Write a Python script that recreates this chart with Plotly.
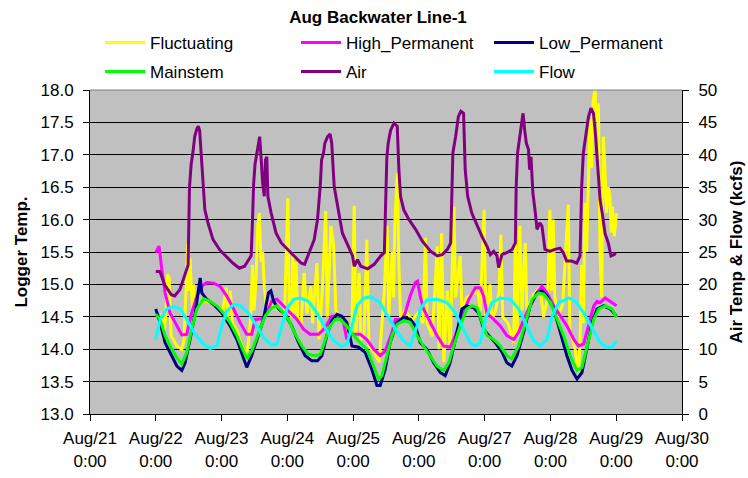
import pandas as pd
import plotly.graph_objects as go

# Logger record starts at midnight, Aug 22; times below are hours from that start.
START = pd.Timestamp("2008-08-22 00:00")

fluct_hours = [2.2, 2.8, 3.6, 4.3, 4.9, 5.6, 6.4, 7.7, 9.5, 10.3, 11.1, 11.6, 12.0, 12.5, 12.9, 13.4,
               13.8, 14.2, 15.0, 17.0, 20.0, 23.0, 24.5, 25.7, 26.3, 27.2, 28.0, 29.5, 31.0, 32.5,
               33.5, 34.5, 35.3, 35.8, 36.5, 37.2, 37.8, 38.4, 39.0, 39.6, 40.5, 41.5, 43.0, 45.0,
               47.0, 48.2, 48.7, 49.5, 50.0, 50.6, 51.2, 51.8, 53.0, 54.1, 55.2, 56.6, 57.2, 58.8,
               59.6, 60.8, 62.0, 62.6, 63.9, 64.9, 65.7, 67.0, 68.5, 70.0, 71.5, 72.4, 73.0, 74.2,
               74.8, 76.0, 77.0, 77.8, 79.7, 81.5, 83.4, 84.4, 85.0, 86.3, 86.8, 87.2, 88.1, 88.7,
               89.3, 91.0, 93.6, 95.5, 97.5, 98.4, 99.0, 100.9, 102.7, 103.3, 104.3, 105.1, 106.4,
               107.4, 108.8, 109.4, 110.3, 111.1, 111.7, 113.5, 115.5, 117.5, 118.4, 119.8, 120.4,
               122.0, 122.6, 124.0, 125.3, 125.9, 126.6, 128.5, 130.6, 131.2, 131.8, 132.8, 133.6,
               134.8, 135.4, 136.5, 138.0, 140.2, 141.5, 143.0, 143.8, 144.4, 145.0, 145.6, 146.9,
               148.5, 150.5, 151.1, 153.0, 154.2, 154.8, 155.4, 156.0, 156.6, 157.2, 157.8, 158.4,
               159.0, 159.6, 160.3, 160.9, 161.5, 162.1, 162.7, 163.3, 163.9, 164.5, 165.1, 165.7,
               166.2, 166.6, 167.3, 167.8, 168.1]
fluct_temp = [14.56, 14.15, 14.5, 15.15, 15.1, 14.2, 14.15, 14.05, 14.0, 14.15, 14.97, 15.62, 14.9,
              15.4, 15.03, 14.6, 15.0, 14.55, 14.65, 14.75, 14.72, 14.62, 14.6, 14.95, 14.5, 14.9,
              14.4, 14.3, 14.1, 13.95, 14.0, 14.4, 15.3, 14.6, 15.0, 15.9, 16.1, 15.35, 15.5, 14.95,
              14.6, 14.7, 14.65, 14.6, 14.55, 16.33, 14.6, 14.5, 15.44, 14.55, 15.35, 14.5, 14.35,
              15.18, 14.55, 14.97, 14.4, 15.33, 14.15, 14.95, 16.13, 14.5, 15.9, 15.6, 14.6, 14.5,
              14.4, 14.25, 14.2, 16.21, 14.2, 15.18, 14.15, 14.2, 15.69, 14.05, 13.95, 13.8, 14.9,
              15.9, 14.5, 15.5, 14.8, 15.9, 16.72, 15.3, 14.5, 14.6, 14.45, 14.55, 14.4, 15.72,
              14.4, 14.2, 15.59, 14.0, 15.79, 13.8, 14.9, 14.0, 16.2, 14.8, 15.1, 15.44, 14.6, 14.8,
              14.85, 14.9, 14.6, 16.15, 14.5, 15.0, 14.45, 14.6, 14.9, 15.77, 14.5, 14.4, 14.1,
              15.74, 14.2, 15.9, 14.6, 15.64, 14.6, 14.7, 14.85, 14.95, 14.5, 14.8, 16.15, 14.9,
              16.0, 14.8, 14.5, 14.7, 16.23, 14.3, 14.0, 13.64, 14.1, 15.3, 14.4, 16.26, 15.5,
              16.51, 17.54, 16.8, 17.85, 18.0, 17.5, 17.79, 15.49, 14.8, 17.28, 16.77, 16.1, 16.5,
              16.36, 15.8, 16.2, 15.74, 16.0, 16.1]

high_hours = [0.0, 1.2, 2.2, 3.4, 5.2, 7.7, 9.5, 11.3, 13.1, 15.0, 16.8, 18.6, 21.1, 23.5, 25.9,
              28.4, 30.8, 33.2, 35.0, 36.3, 38.7, 40.5, 42.3, 44.2, 46.6, 49.0, 51.5, 53.9, 56.3,
              59.4, 61.8, 64.2, 66.7, 68.5, 69.7, 71.6, 74.6, 77.0, 79.5, 81.9, 83.7, 86.2, 87.4,
              89.8, 91.0, 92.8, 94.7, 95.5, 96.5, 97.7, 100.2, 102.6, 105.0, 107.4, 109.3, 111.7,
              114.2, 116.6, 118.4, 119.6, 120.8, 123.3, 125.7, 128.1, 130.6, 132.4, 134.3, 136.6,
              139.1, 140.9, 142.7, 145.2, 147.6, 150.0, 152.5, 154.3, 156.1, 157.9, 159.8, 161.0,
              162.2, 164.0, 165.9, 168.1]
high_temp = [15.49, 15.59, 15.23, 14.87, 14.56, 14.36, 14.22, 14.23, 14.56, 14.82, 14.97, 15.03,
             15.02, 14.97, 14.82, 14.62, 14.41, 14.23, 14.23, 14.46, 14.47, 14.56, 14.74, 14.77,
             14.67, 14.56, 14.46, 14.31, 14.23, 14.23, 14.33, 14.51, 14.51, 14.41, 14.15, 14.23,
             14.23, 14.15, 14.0, 13.9, 13.97, 14.26, 14.46, 14.46, 14.56, 14.82, 15.03, 15.05,
             14.82, 14.62, 14.41, 14.21, 14.05, 14.03, 14.21, 14.51, 14.77, 14.95, 14.95, 14.82,
             14.56, 14.46, 14.36, 14.21, 14.15, 14.26, 14.46, 14.67, 14.87, 14.97, 14.87, 14.67,
             14.51, 14.36, 14.15, 14.05, 14.08, 14.36, 14.67, 14.74, 14.72, 14.79, 14.74, 14.67]

low_hours = [0.0, 1.6, 3.4, 5.2, 7.7, 9.5, 10.7, 12.5, 14.4, 16.2, 16.8, 18.6, 21.1, 24.1, 27.1,
             29.6, 32.0, 33.2, 35.0, 36.9, 39.3, 41.1, 42.0, 43.0, 44.8, 47.2, 49.6, 52.1, 54.5,
             56.9, 59.0, 60.6, 62.4, 64.2, 66.1, 67.9, 69.7, 71.6, 74.0, 76.4, 78.8, 80.7, 81.9,
             83.7, 85.5, 88.0, 90.4, 92.9, 94.7, 96.5, 98.9, 101.4, 103.8, 105.6, 107.4, 109.9,
             111.7, 113.5, 116.0, 117.8, 119.7, 121.5, 123.9, 126.4, 128.1, 129.9, 131.8, 134.2,
             136.6, 139.1, 140.9, 142.7, 145.2, 147.6, 150.0, 151.9, 153.7, 155.5, 157.3, 159.2,
             161.0, 163.4, 165.9, 168.1]
low_temp = [14.62, 14.41, 14.1, 13.95, 13.74, 13.67, 13.79, 14.15, 14.56, 15.1, 14.87, 14.77,
            14.69, 14.56, 14.36, 14.15, 13.85, 13.72, 13.9, 14.15, 14.46, 14.87, 14.9, 14.74,
            14.62, 14.54, 14.36, 14.1, 13.9, 13.82, 13.82, 13.9, 14.21, 14.44, 14.54, 14.51,
            14.41, 14.05, 14.03, 13.95, 13.69, 13.44, 13.44, 13.69, 14.1, 14.41, 14.49, 14.46,
            14.36, 14.1, 14.0, 13.79, 13.64, 13.59, 13.79, 14.26, 14.62, 14.67, 14.64, 14.56,
            14.31, 14.21, 14.1, 13.95, 13.79, 13.74, 13.9, 14.26, 14.67, 14.87, 14.9, 14.82,
            14.62, 14.26, 13.9, 13.67, 13.54, 13.64, 14.0, 14.41, 14.62, 14.67, 14.62, 14.51]

main_hours = [0.0, 1.6, 3.4, 5.2, 7.7, 9.5, 11.3, 13.1, 15.0, 17.4, 19.8, 22.3, 24.7, 27.1, 29.6,
              32.0, 33.2, 35.0, 37.5, 39.9, 42.3, 44.2, 46.0, 48.4, 50.9, 53.3, 55.7, 58.2, 60.0,
              61.8, 63.6, 65.5, 67.3, 69.7, 72.2, 74.6, 77.0, 79.5, 81.3, 82.5, 84.3, 86.2, 88.0,
              90.4, 92.8, 95.3, 97.7, 100.2, 102.6, 105.0, 106.9, 108.7, 111.1, 113.5, 115.4,
              117.2, 119.0, 120.8, 123.3, 125.7, 128.1, 129.9, 132.4, 134.8, 137.3, 139.7, 141.6,
              144.0, 146.4, 148.8, 151.2, 153.7, 155.5, 157.3, 159.8, 161.6, 164.0, 166.5, 168.1]
main_temp = [14.54, 14.46, 14.21, 14.05, 13.87, 13.77, 13.95, 14.31, 14.62, 14.78, 14.74, 14.67,
             14.56, 14.41, 14.21, 13.95, 13.85, 13.97, 14.26, 14.51, 14.64, 14.67, 14.59, 14.46,
             14.23, 14.05, 13.92, 13.9, 13.92, 14.15, 14.36, 14.46, 14.46, 14.36, 14.21, 14.1,
             14.0, 13.74, 13.54, 13.59, 13.9, 14.21, 14.38, 14.44, 14.41, 14.21, 14.05, 13.9,
             13.74, 13.67, 13.79, 14.05, 14.36, 14.62, 14.67, 14.64, 14.41, 14.21, 14.15, 14.05,
             13.9, 13.85, 14.05, 14.41, 14.77, 14.87, 14.85, 14.72, 14.46, 14.21, 13.9, 13.67,
             13.72, 14.05, 14.46, 14.62, 14.67, 14.62, 14.49]

air_hours = [0.0, 1.5, 3.3, 5.7, 6.9, 8.8, 10.0, 11.2, 11.8, 12.3, 12.9, 13.6, 14.2, 15.0, 15.5,
             16.0, 16.6, 17.3, 17.9, 19.1, 20.9, 23.4, 26.4, 28.1, 30.5, 32.4, 33.6, 34.8, 35.3,
             35.7, 36.2, 37.2, 37.9, 38.4, 39.0, 39.6, 40.0, 40.5, 40.9, 42.1, 43.9, 45.8, 48.2,
             50.6, 53.0, 54.3, 56.0, 57.8, 59.0, 60.0, 60.5, 61.2, 61.7, 62.7, 63.6, 64.2, 65.1,
             66.3, 68.1, 69.9, 71.8, 72.4, 73.6, 74.8, 77.3, 79.7, 82.1, 83.4, 83.9, 84.3, 84.8,
             85.7, 86.9, 88.1, 88.7, 89.3, 90.5, 92.4, 94.8, 97.2, 100.3, 102.7, 104.5, 106.4,
             107.6, 108.0, 108.4, 109.4, 110.4, 111.3, 112.3, 112.9, 113.8, 115.3, 117.2, 119.0,
             120.8, 122.1, 123.3, 124.5, 125.1, 126.3, 128.1, 130.0, 131.2, 131.5, 132.0, 133.0,
             134.0, 134.6, 135.2, 136.0, 136.4, 136.9, 137.6, 138.5, 139.1, 140.1, 140.9, 142.0,
             143.8, 145.6, 147.5, 148.7, 149.9, 151.7, 153.6, 154.8, 155.4, 156.0, 157.2, 157.9,
             158.8, 159.7, 160.5, 161.2, 162.1, 162.9, 163.9, 165.1, 166.1, 167.3, 167.8]
air_temp = [22.0, 22.0, 19.9, 18.4, 18.2, 19.2, 20.7, 22.5, 23.0, 35.0, 38.5, 40.5, 42.8, 44.0,
            44.4, 43.8, 40.2, 35.1, 31.5, 29.4, 26.9, 25.3, 24.0, 23.3, 22.5, 22.8, 23.6, 24.4,
            30.0, 35.5, 38.5, 41.3, 42.8, 39.7, 35.6, 33.6, 39.2, 39.7, 33.6, 31.0, 27.9, 26.4,
            25.4, 24.4, 23.3, 23.1, 24.9, 26.9, 30.0, 35.1, 39.2, 40.3, 41.8, 42.8, 43.2, 41.8,
            35.1, 32.1, 27.9, 26.2, 24.4, 22.8, 23.8, 22.8, 22.4, 23.1, 24.4, 24.9, 35.0, 39.5,
            41.8, 43.8, 44.9, 44.4, 37.7, 33.6, 31.5, 30.0, 28.5, 26.7, 25.1, 24.4, 24.6, 25.4,
            26.4, 35.1, 40.3, 42.8, 45.9, 46.7, 46.4, 37.7, 33.6, 31.0, 29.0, 27.4, 25.9, 24.6,
            25.1, 24.4, 22.6, 24.6, 24.9, 25.4, 26.4, 35.1, 40.3, 43.3, 46.4, 43.8, 41.8, 40.8,
            37.7, 39.7, 34.1, 31.0, 28.5, 29.5, 29.0, 25.4, 25.1, 25.4, 25.6, 24.9, 23.6, 23.6,
            23.3, 24.4, 35.1, 40.3, 43.8, 45.9, 47.2, 46.4, 42.8, 37.7, 33.1, 31.0, 27.9, 26.4,
            24.4, 24.6, 24.9]

flow_hours = [0.0, 1.6, 4.0, 6.4, 8.9, 11.3, 14.4, 17.4, 19.8, 22.3, 24.1, 25.9, 28.4, 30.8, 33.8,
              36.9, 39.9, 42.3, 44.2, 46.0, 47.8, 50.3, 52.7, 55.7, 58.8, 61.8, 64.9, 67.9, 69.7,
              71.6, 73.4, 75.8, 78.2, 81.3, 84.3, 87.4, 90.4, 92.8, 95.3, 96.5, 98.9, 102.6,
              106.2, 109.3, 112.3, 114.7, 116.6, 118.4, 120.2, 122.7, 125.7, 129.4, 132.4, 135.4,
              137.9, 140.3, 142.7, 144.6, 147.0, 150.7, 153.1, 156.1, 159.2, 162.2, 164.6, 166.5,
              168.1]
flow_kcfs = [11.5, 14.6, 16.2, 16.6, 16.2, 14.6, 12.3, 10.8, 10.1, 10.5, 13.6, 15.9, 16.9, 16.8,
             15.6, 13.6, 11.5, 10.6, 10.8, 13.6, 16.2, 17.7, 17.9, 17.4, 15.6, 13.3, 11.3, 10.4,
             10.8, 13.6, 16.7, 17.9, 18.1, 17.4, 15.4, 13.1, 11.3, 10.5, 13.6, 16.2, 17.6, 17.7,
             17.2, 15.6, 13.1, 11.0, 10.5, 11.0, 14.6, 17.2, 17.9, 17.7, 16.2, 13.6, 11.3, 10.5,
             11.5, 15.1, 17.2, 17.9, 17.4, 15.6, 13.3, 11.0, 10.3, 10.3, 11.3]

day_ticks = pd.date_range("2008-08-21", "2008-08-30", freq="D")
day_labels = [f"Aug/{d.day}<br>0:00" for d in day_ticks]

FONT = "Arial, Liberation Sans, sans-serif"


def to_time(hours):
    return START + pd.to_timedelta(hours, unit="h")


# name, hours, values, colour, y axis, legend slot
series = [
    ("Fluctuating", fluct_hours, fluct_temp, "#FFFF00", "y", "legend"),
    ("High_Permanent", high_hours, high_temp, "#FF00FF", "y", "legend2"),
    ("Low_Permanent", low_hours, low_temp, "#000080", "y", "legend3"),
    ("Mainstem", main_hours, main_temp, "#00FF00", "y", "legend4"),
    ("Air", air_hours, air_temp, "#800080", "y2", "legend5"),
    ("Flow", flow_hours, flow_kcfs, "#00FFFF", "y2", "legend6"),
]

fig = go.Figure()
for name, hrs, vals, color, axis, leg in series:
    fig.add_trace(go.Scatter(
        x=to_time(hrs), y=vals, name=name, mode="lines",
        line=dict(color=color, width=3), yaxis=axis, legend=leg,
    ))

legend_style = dict(
    orientation="h", xref="paper", yref="paper", xanchor="left", yanchor="middle",
    font=dict(family=FONT, size=17, color="#000000"), bgcolor="rgba(0,0,0,0)",
    itemwidth=40, borderwidth=0,
)
# three columns, two rows of legend entries above the plot
col_x = [(100 - 90) / 592, (296 - 90) / 592, (489 - 90) / 592]
row_y = [1 + 47 / 324, 1 + 18 / 324]
legends = {}
for i in range(6):
    key = "legend" if i == 0 else f"legend{i + 1}"
    legends[key] = dict(legend_style, x=col_x[i % 3], y=row_y[i // 3])

fig.update_layout(
    width=748, height=478,
    margin=dict(l=90, r=66, t=90, b=64, autoexpand=False),
    paper_bgcolor="#FFFFFF", plot_bgcolor="#C0C0C0",
    font=dict(family=FONT, size=17, color="#000000"),
    title=dict(text="<b>Aug Backwater Line-1</b>", xref="container", yref="container",
               x=378 / 748, y=1 - 17 / 478, xanchor="center", yanchor="middle",
               font=dict(family=FONT, size=17, color="#000000")),
    showlegend=True,
    xaxis=dict(
        type="date", range=[day_ticks[0], day_ticks[-1]],
        tickmode="array", tickvals=day_ticks, ticktext=day_labels,
        ticks="outside", ticklen=6, tickcolor="#000000", tickwidth=1,
        showline=True, linecolor="#000000", linewidth=1, automargin=False,
        showgrid=False, zeroline=False, ticklabelstandoff=3,
        tickfont=dict(family=FONT, size=17, color="#000000"),
    ),
    yaxis=dict(
        range=[13.0, 18.0], dtick=0.5, tick0=13.0, tickformat=".1f",
        ticks="outside", ticklen=6, tickcolor="#000000", tickwidth=1,
        showline=True, linecolor="#000000", linewidth=1, automargin=False,
        showgrid=True, gridcolor="#000000", gridwidth=1, zeroline=False,
        ticklabelstandoff=6,
        title=dict(text="<b>Logger Temp.</b>", standoff=8,
                   font=dict(family=FONT, size=17, color="#000000")),
        tickfont=dict(family=FONT, size=17, color="#000000"),
    ),
    yaxis2=dict(
        overlaying="y", side="right", range=[0, 50], dtick=5, tick0=0,
        ticks="outside", ticklen=6, tickcolor="#000000", tickwidth=1,
        showline=True, linecolor="#000000", linewidth=1, automargin=False,
        showgrid=False, zeroline=False,
        ticklabelstandoff=6,
        title=dict(text="<b>Air Temp & Flow (kcfs)</b>", standoff=13,
                   font=dict(family=FONT, size=17, color="#000000")),
        tickfont=dict(family=FONT, size=17, color="#000000"),
    ),
    **legends,
)

# grey frame edge along the top of the plot area
fig.add_shape(type="line", xref="paper", yref="paper", x0=0, x1=1, y0=1, y1=1,
              line=dict(color="#808080", width=1), layer="above")

fig.write_html("out.html")
